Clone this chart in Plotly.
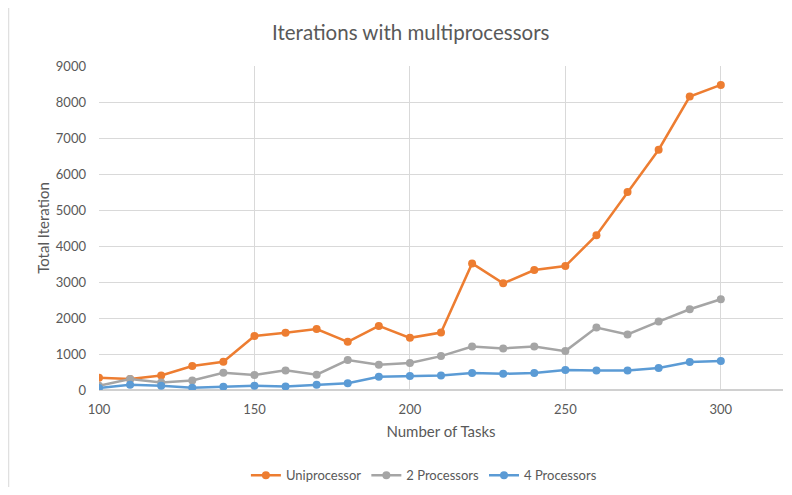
import plotly.graph_objects as go

tasks = [100, 110, 120, 130, 140, 150, 160, 170, 180, 190, 200, 210, 220, 230, 240, 250, 260, 270, 280, 290, 300]
uniprocessor = [340, 305, 405, 665, 785, 1500, 1590, 1695, 1337, 1781, 1449, 1597, 3517, 2963, 3332, 3442, 4300, 5502, 6674, 8150, 8474]
two_proc = [120, 305, 210, 265, 480, 415, 545, 425, 831, 700, 748, 941, 1210, 1155, 1210, 1080, 1736, 1542, 1902, 2243, 2520]
four_proc = [55, 147, 120, 64, 92, 120, 100, 147, 185, 369, 388, 406, 470, 452, 470, 554, 545, 545, 609, 775, 803]
x_ticks = [100, 150, 200, 250, 300]

series = [
    ("Uniprocessor", uniprocessor, "#ED7D31"),
    ("2 Processors", two_proc, "#A5A5A5"),
    ("4 Processors", four_proc, "#5B9BD5"),
]

fig = go.Figure()
for name, vals, color in series:
    fig.add_trace(go.Scatter(
        x=tasks, y=vals, name=name, mode="lines+markers",
        line=dict(color=color, width=2.5),
        marker=dict(color=color, size=8),
    ))

font_family = "Lato, 'Open Sans', sans-serif"
# page body has an 8px margin on every side; size the figure so it fits the window exactly
fig.update_layout(
    width=776, height=479,
    margin=dict(l=91, r=1, t=58, b=97, autoexpand=False),
    paper_bgcolor="white", plot_bgcolor="white",
    font=dict(family=font_family, color="#595959", size=11),
    title=dict(text="Iterations with multiprocessors", x=0.519, xanchor="center",
               y=0.948, yanchor="middle", font=dict(size=20.5, color="#595959")),
    showlegend=True,
    legend=dict(orientation="h", x=0.475, xanchor="center", y=-0.263, yanchor="middle",
                font=dict(size=13, color="#595959"), itemwidth=30),
    xaxis=dict(range=[100, 320], tickvals=x_ticks, showgrid=True, gridcolor="#D9D9D9",
               zeroline=False, showline=False, ticks="", ticklabelstandoff=10,
               title=dict(text="Number of Tasks", font=dict(size=15, color="#595959"), standoff=10),
               tickfont=dict(size=13, color="#595959")),
    yaxis=dict(range=[0, 9000], dtick=1000, showgrid=True, gridcolor="#D9D9D9",
               zeroline=True, zerolinecolor="#D0D0D0", showline=False, ticks="", ticklabelstandoff=12,
               title=dict(text="Total Iteration", font=dict(size=15, color="#595959"), standoff=2),
               tickfont=dict(size=13, color="#595959")),
)

fig.add_shape(type="line", xref="paper", yref="paper", x0=-0.132, x1=-0.132, y0=-0.3, y1=1.18,
              line=dict(color="#D9D9D9", width=1))

fig.write_html("out.html")
